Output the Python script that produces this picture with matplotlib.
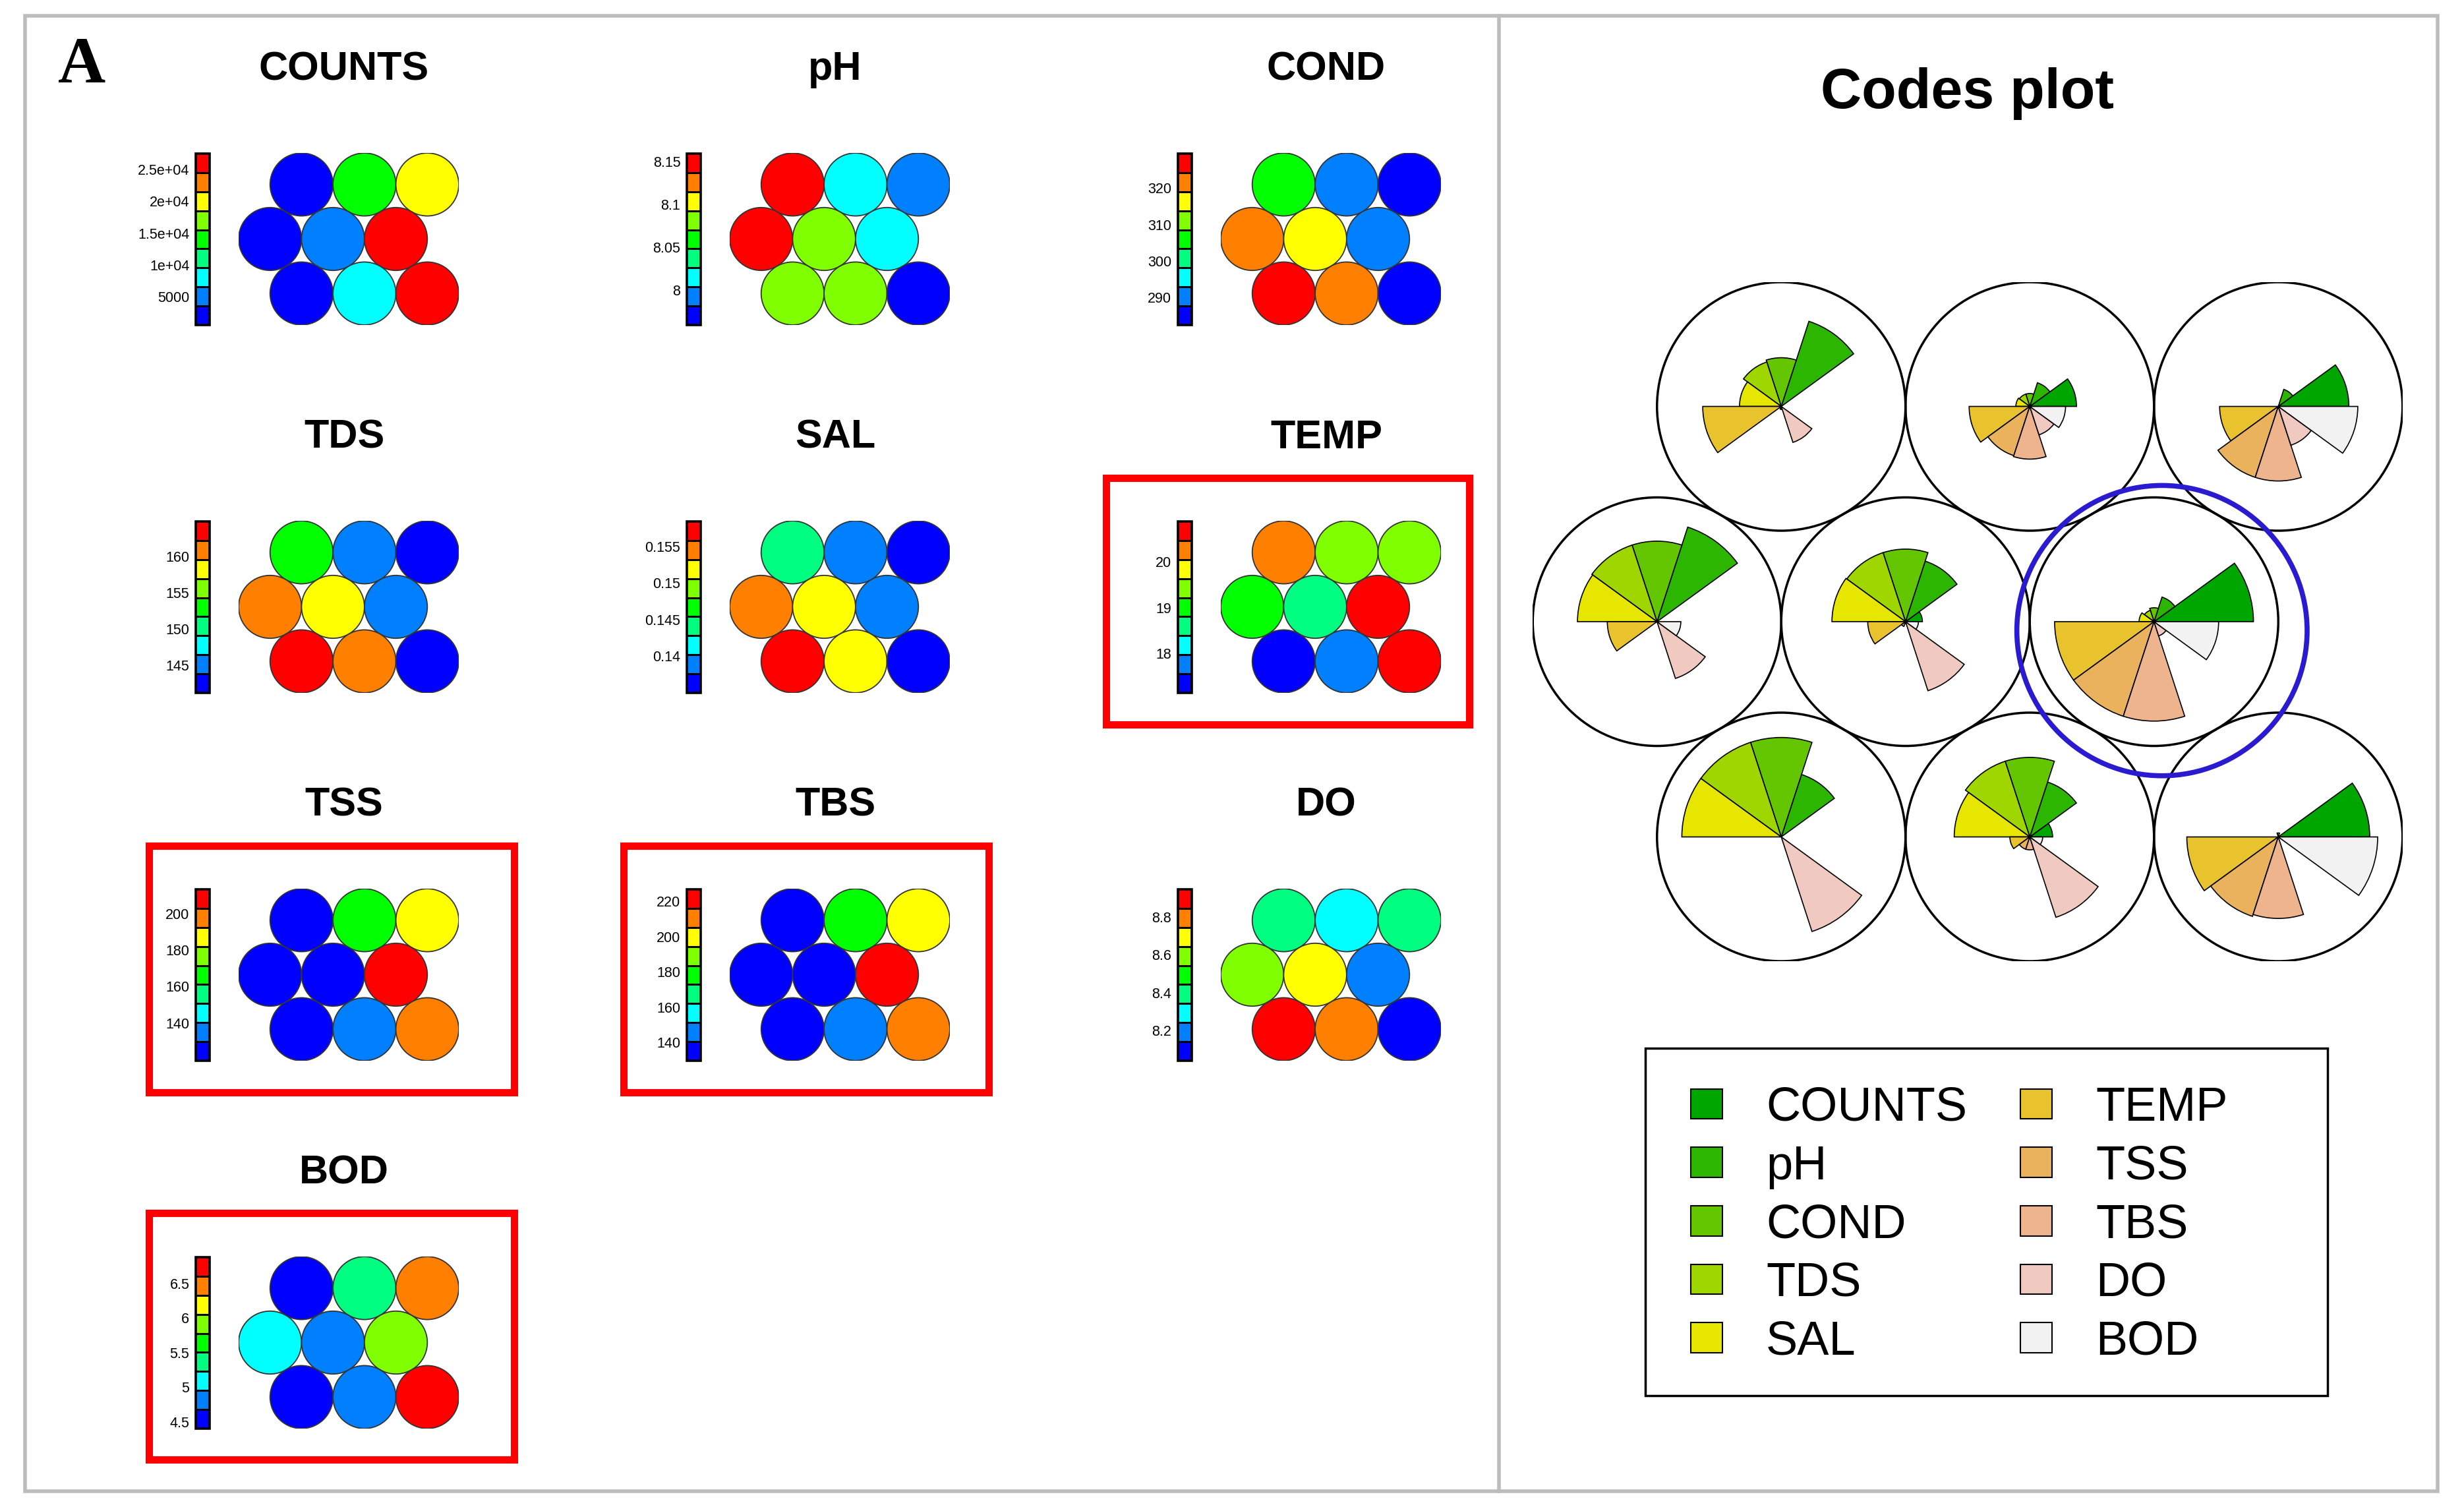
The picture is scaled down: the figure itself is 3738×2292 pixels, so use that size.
import numpy as np
import matplotlib
matplotlib.use("Agg")
import matplotlib.pyplot as plt
from matplotlib.patches import Circle, Wedge, Rectangle, Patch
from matplotlib.colors import ListedColormap, Normalize
from matplotlib.cm import ScalarMappable

W, H, DPI = 3738, 2292, 100

# ---------------- data ----------------
variables = ["COUNTS", "pH", "COND", "TDS", "SAL", "TEMP", "TSS", "TBS", "DO", "BOD"]
# SOM units (3x3 hex grid): top row L->R, middle row L->R, bottom row L->R
unit_row = [0, 0, 0, 1, 1, 1, 2, 2, 2]
unit_col = [0, 1, 2, 0, 1, 2, 0, 1, 2]

# codebook values of each unit, min-max scaled per variable (0..1)
COUNTS = [0.00, 0.47, 0.71, 0.00, 0.17, 1.00, 0.00, 0.23, 0.92]
pH     = [0.90, 0.25, 0.18, 1.00, 0.64, 0.26, 0.66, 0.58, 0.00]
COND   = [0.49, 0.13, 0.00, 0.81, 0.73, 0.14, 1.00, 0.80, 0.04]
TDS    = [0.47, 0.13, 0.00, 0.81, 0.73, 0.12, 1.00, 0.80, 0.00]
SAL    = [0.42, 0.14, 0.00, 0.80, 0.74, 0.15, 1.00, 0.76, 0.00]
TEMP   = [0.79, 0.61, 0.59, 0.50, 0.38, 1.00, 0.00, 0.20, 0.92]
TSS    = [0.02, 0.52, 0.75, 0.00, 0.05, 1.00, 0.00, 0.13, 0.84]
TBS    = [0.03, 0.53, 0.75, 0.00, 0.02, 1.00, 0.00, 0.13, 0.82]
DO     = [0.38, 0.30, 0.41, 0.60, 0.73, 0.15, 1.00, 0.85, 0.00]
BOD    = [0.00, 0.36, 0.80, 0.24, 0.13, 0.65, 0.00, 0.13, 1.00]
scaled = [COUNTS, pH, COND, TDS, SAL, TEMP, TSS, TBS, DO, BOD]

# range of each variable's codebook values (colour-key limits)
var_min = [600, 7.959, 282.5, 141.2, 0.13491, 17.14, 119.3, 129.7, 8.04, 4.40]
var_max = [27500, 8.159, 329.4, 164.8, 0.15844, 20.88, 213.2, 226.8, 8.945, 6.88]

tick_values = [
    [25000, 20000, 15000, 10000, 5000],
    [8.15, 8.1, 8.05, 8.0],
    [320, 310, 300, 290],
    [160, 155, 150, 145],
    [0.155, 0.15, 0.145, 0.14],
    [20, 19, 18],
    [200, 180, 160, 140],
    [220, 200, 180, 160, 140],
    [8.8, 8.6, 8.4, 8.2],
    [6.5, 6, 5.5, 5, 4.5],
]
tick_labels = [
    ["2.5e+04", "2e+04", "1.5e+04", "1e+04", "5000"],
    ["8.15", "8.1", "8.05", "8"],
    ["320", "310", "300", "290"],
    ["160", "155", "150", "145"],
    ["0.155", "0.15", "0.145", "0.14"],
    ["20", "19", "18"],
    ["200", "180", "160", "140"],
    ["220", "200", "180", "160", "140"],
    ["8.8", "8.6", "8.4", "8.2"],
    ["6.5", "6", "5.5", "5", "4.5"],
]
highlighted_vars = ["TEMP", "TSS", "TBS", "BOD"]
highlighted_unit = 5

# ---------------- styles ----------------
prop_colors = ["#0000FF", "#0080FF", "#00FFFF", "#00FF80", "#00FF00",
               "#80FF00", "#FFFF00", "#FF8000", "#FF0000"]
seg_colors = ["#00A600", "#2DB600", "#63C600", "#A0D600", "#E6E600",
              "#E8C32E", "#EBB25E", "#EDB48E", "#F0C9C0", "#F2F2F2"]
prop_cmap = ListedColormap(prop_colors)
SANS = ["Liberation Sans", "DejaVu Sans"]
SERIF = ["Liberation Serif", "DejaVu Serif"]

fig = plt.figure(figsize=(W / DPI, H / DPI), dpi=DPI)
fig.patch.set_facecolor("white")


def px_axes(left, top, width, height):
    return fig.add_axes([left / W, 1 - (top + height) / H, width / W, height / H])


bg = px_axes(0, 0, W, H)
bg.set_xlim(0, W)
bg.set_ylim(H, 0)
bg.axis("off")
bg.add_patch(Rectangle((38, 24), 3660, 2238, fill=False, ec="#BDBDBD", lw=4))
bg.plot([2274, 2274], [24, 2262], color="#BDBDBD", lw=4)
bg.text(124, 101, "A", family=SERIF, weight="bold", fontsize=72,
        ha="center", va="center")

SQ3 = np.sqrt(3) / 2


def hex_xy(u):
    r, c = unit_row[u], unit_col[u]
    return c + (0.0 if r == 1 else 0.5), (2 - r) * SQ3


# ---------------- property maps ----------------
COL_DX, ROW_DY = 745, 558
for k, name in enumerate(variables):
    pr, pc = divmod(k, 3)
    ox, oy = pc * COL_DX, pr * ROW_DY
    ax = px_axes(362 + ox, 232 + oy, 334, 261)
    ax.set_xlim(-0.5, 3.0)
    ax.set_ylim(-0.5, 2 * SQ3 + 0.5)
    ax.set_aspect("equal")
    ax.axis("off")
    norm = Normalize(var_min[k], var_max[k])
    vals = [var_min[k] + s * (var_max[k] - var_min[k]) for s in scaled[k]]
    for u in range(9):
        x, y = hex_xy(u)
        v = min(norm(vals[u]), 0.9999)
        ax.add_patch(Circle((x, y), 0.5, fc=prop_cmap(v), ec="#333333", lw=1.3))
    cax = px_axes(297 + ox, 233 + oy, 21, 260)
    cb = fig.colorbar(ScalarMappable(norm=norm, cmap=prop_cmap), cax=cax,
                      drawedges=True)
    cb.outline.set_linewidth(2.6)
    cb.dividers.set_linewidth(2.2)
    cb.dividers.set_color("black")
    cax.yaxis.set_ticks_position("left")
    cax.set_yticks(tick_values[k])
    cax.set_yticklabels(tick_labels[k], family=SANS, fontsize=15.5)
    cax.tick_params(axis="y", length=0, pad=7)
    bg.text(522 + ox, 106 + oy, name, family=SANS, weight="bold", fontsize=44,
            ha="center", va="center")

# red highlight frames (figure pixels)
red_boxes = {"TEMP": (1678, 725, 551, 374), "TSS": (226, 1283, 554, 374),
             "TBS": (946, 1283, 554, 374), "BOD": (226, 1840, 554, 374)}
for name in highlighted_vars:
    l, t, w, h = red_boxes[name]
    bg.add_patch(Rectangle((l, t), w, h, fill=False, ec="#FF0000", lw=8))

# ---------------- codes plot ----------------
cax2 = px_axes(2325, 428, 1320, 1030)
cax2.set_xlim(-0.5, 3.0)
cax2.set_ylim(-0.5, 2 * SQ3 + 0.5)
cax2.set_aspect("equal")
cax2.axis("off")
for u in range(9):
    x, y = hex_xy(u)
    cax2.add_patch(Circle((x, y), 0.5, fill=False, ec="black", lw=2.5))
    for k in range(10):
        s = scaled[k][u]
        if s <= 0:
            continue
        cax2.add_patch(Wedge((x, y), 0.4 * s, 36 * k, 36 * (k + 1),
                             fc=seg_colors[k], ec="black", lw=1.2))
hx, hy = hex_xy(highlighted_unit)
cax2.add_patch(Circle((hx + 0.032, hy - 0.036), 0.584, fill=False,
                      ec="#2A1BD0", lw=5.5, clip_on=False))
bg.text(2985, 142, "Codes plot", family=SANS, weight="bold", fontsize=62,
        ha="center", va="center")

# legend
handles = [Patch(fc=seg_colors[k], ec="black", lw=1.5) for k in range(10)]
fig.legend(handles, variables, ncol=2, loc="upper left",
           bbox_to_anchor=(2565 / W, 1 - 1648 / H), frameon=False,
           prop={"family": SANS, "size": 52}, borderpad=0, borderaxespad=0,
           handlelength=0.66, handleheight=0.6, handletextpad=0.92,
           columnspacing=1.12, labelspacing=0.3)
bg.add_patch(Rectangle((2496, 1590), 1035, 527, fill=False, ec="black", lw=2.5))

fig.savefig("out.png", dpi=DPI)
